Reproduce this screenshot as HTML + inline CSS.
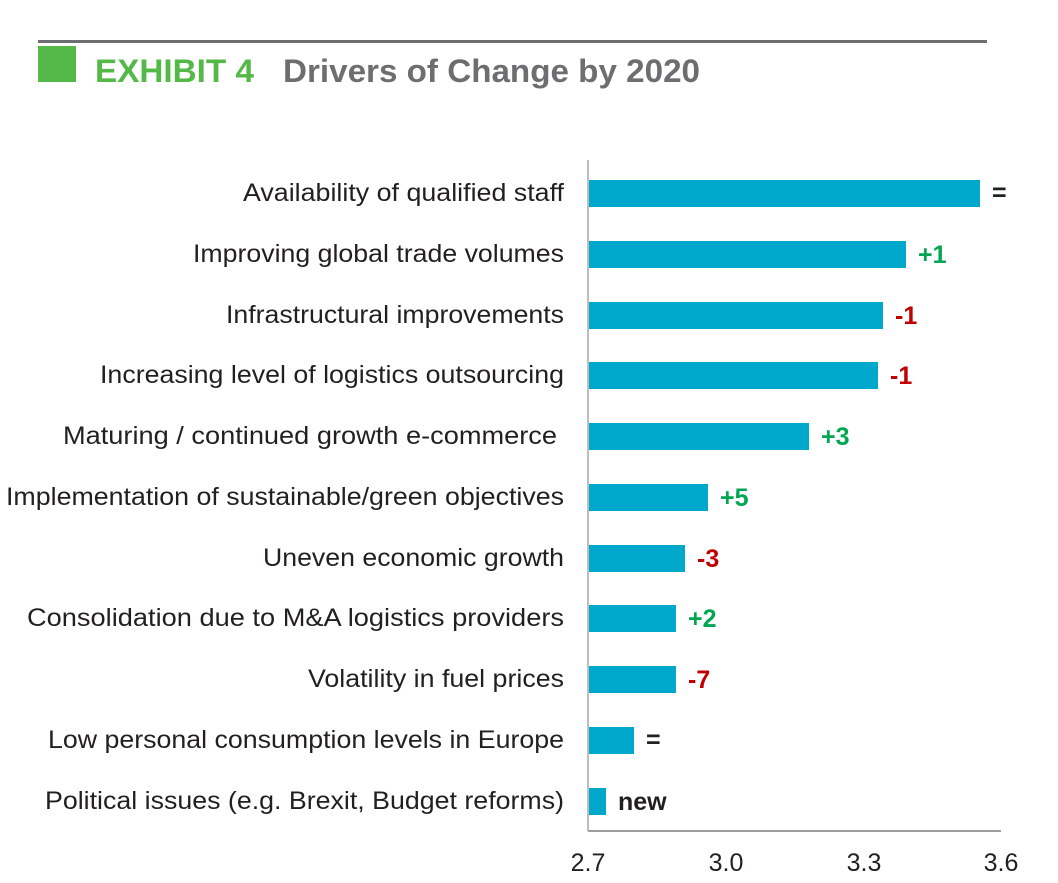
<!DOCTYPE html>
<html><head><meta charset="utf-8"><style>
html,body{margin:0;padding:0;background:#fff;}
svg{display:block;font-family:"Liberation Sans",Arial,sans-serif;}
</style></head><body>
<svg width="1058" height="883" viewBox="0 0 1058 883">
<rect x="38" y="40" width="949" height="3" fill="#6d6e70"/>
<rect x="38" y="46" width="38" height="36" fill="#54b948"/>
<text x="95" y="82" font-size="32" font-weight="bold" fill="#54b948" textLength="159" lengthAdjust="spacingAndGlyphs">EXHIBIT 4</text>
<text x="283" y="82" font-size="32" font-weight="bold" fill="#6d6e70" textLength="417" lengthAdjust="spacingAndGlyphs">Drivers of Change by 2020</text>
<line x1="588" y1="160" x2="588" y2="831" stroke="#bdbdbd" stroke-width="2"/>
<line x1="588" y1="831" x2="1001" y2="831" stroke="#9e9e9e" stroke-width="2"/>
<g fill="#00a8cc">
<rect x="589" y="180" width="391" height="27"/>
<rect x="589" y="241" width="317" height="27"/>
<rect x="589" y="302" width="294" height="27"/>
<rect x="589" y="362" width="289" height="27"/>
<rect x="589" y="423" width="220" height="27"/>
<rect x="589" y="484" width="119" height="27"/>
<rect x="589" y="545" width="96" height="27"/>
<rect x="589" y="605" width="87" height="27"/>
<rect x="589" y="666" width="87" height="27"/>
<rect x="589" y="727" width="45" height="27"/>
<rect x="589" y="788" width="17" height="27"/>
</g>
<g font-size="25" fill="#231f20" lengthAdjust="spacingAndGlyphs">
<text x="243" y="201" textLength="321" lengthAdjust="spacingAndGlyphs">Availability of qualified staff</text>
<text x="193" y="262" textLength="371" lengthAdjust="spacingAndGlyphs">Improving global trade volumes</text>
<text x="226" y="323" textLength="338" lengthAdjust="spacingAndGlyphs">Infrastructural improvements</text>
<text x="100" y="383" textLength="464" lengthAdjust="spacingAndGlyphs">Increasing level of logistics outsourcing</text>
<text x="63" y="444" textLength="494" lengthAdjust="spacingAndGlyphs">Maturing / continued growth  e-commerce</text>
<text x="6" y="505" textLength="558" lengthAdjust="spacingAndGlyphs">Implementation of sustainable/green objectives</text>
<text x="263" y="566" textLength="301" lengthAdjust="spacingAndGlyphs">Uneven economic growth</text>
<text x="27" y="626" textLength="537" lengthAdjust="spacingAndGlyphs">Consolidation due to M&amp;A  logistics providers</text>
<text x="308" y="687" textLength="256" lengthAdjust="spacingAndGlyphs">Volatility in fuel prices</text>
<text x="48" y="748" textLength="516" lengthAdjust="spacingAndGlyphs">Low personal consumption levels in Europe</text>
<text x="45" y="809" textLength="519" lengthAdjust="spacingAndGlyphs">Political issues (e.g. Brexit, Budget reforms)</text>
</g>
<g font-size="25" font-weight="bold">
<text x="992" y="201" fill="#231f20">=</text>
<text x="918" y="263" fill="#00a650">+1</text>
<text x="895" y="324" fill="#c00000">-1</text>
<text x="890" y="384" fill="#c00000">-1</text>
<text x="821" y="445" fill="#00a650">+3</text>
<text x="720" y="506" fill="#00a650">+5</text>
<text x="697" y="567" fill="#c00000">-3</text>
<text x="688" y="627" fill="#00a650">+2</text>
<text x="688" y="688" fill="#c00000">-7</text>
<text x="646" y="748" fill="#231f20">=</text>
<text x="618" y="810" fill="#231f20">new</text>
</g>
<g font-size="25" fill="#231f20" text-anchor="middle">
<text x="588" y="871">2.7</text>
<text x="726" y="871">3.0</text>
<text x="864" y="871">3.3</text>
<text x="1001" y="871">3.6</text>
</g>
</svg>
</body></html>
